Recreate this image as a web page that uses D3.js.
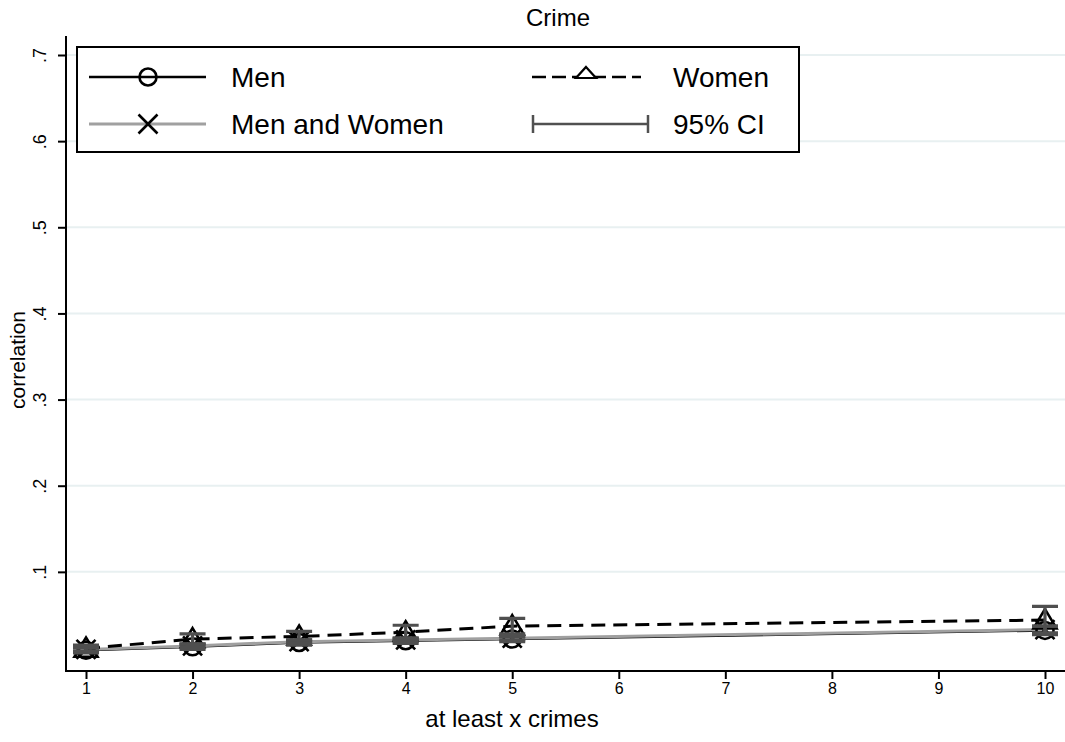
<!DOCTYPE html>
<html><head><meta charset="utf-8">
<script src="https://cdn.jsdelivr.net/npm/d3@7"></script>
<style>body{margin:0;background:#fff;} svg{display:block;font-family:Arial,"Liberation Sans",Helvetica,sans-serif;}</style>
</head><body>
<svg id="c" width="1065" height="742"></svg>
<script>
const xCats = [1,2,3,4,5,10];
const xTicks = [1,2,3,4,5,6,7,8,9,10];
const yTicks = [0.1,0.2,0.3,0.4,0.5,0.6,0.7];
const yTickLabels = [".1",".2",".3",".4",".5",".6",".7"];
const men = [0.009,0.013,0.018,0.020,0.022,0.032];
const women = [0.011,0.022,0.025,0.030,0.037,0.044];
const menWomen = [0.010,0.014,0.019,0.021,0.023,0.033];
const menLo = [0.006,0.010,0.015,0.017,0.019,0.027];
const menHi = [0.012,0.016,0.021,0.023,0.025,0.037];
const womenLo = [0.007,0.016,0.019,0.022,0.028,0.029];
const womenHi = [0.015,0.028,0.031,0.038,0.046,0.060];
const mwLo = [0.008,0.012,0.017,0.019,0.021,0.029];
const mwHi = [0.012,0.016,0.021,0.023,0.025,0.037];
const labels = ["Men","Women","Men and Women","95% CI"];

const svg = d3.select("#c");
const x = d3.scaleLinear().domain([1,10]).range([86,1045]);
const y = d3.scaleLinear().domain([0,0.7]).range([658,55]);
const plotL = 66, plotR = 1065, plotB = 671, plotT = 36;

// gridlines
svg.append("g").selectAll("line").data(yTicks).join("line")
  .attr("x1",plotL).attr("x2",plotR).attr("y1",d=>y(d)).attr("y2",d=>y(d))
  .attr("stroke","#e8f0f1").attr("stroke-width",2);

// y axis
const ya = svg.append("g").attr("transform",`translate(${plotL},0)`)
  .call(d3.axisLeft(y).tickValues(yTicks).tickSize(8).tickFormat((d,i)=>yTickLabels[i]));
ya.attr("font-size",null).attr("font-family",null);
ya.select(".domain").remove();
ya.selectAll(".tick line").attr("stroke","#000").attr("stroke-width",2);
ya.selectAll(".tick text").style("font-size","18px").attr("fill","#000")
  .attr("transform","rotate(-90)").attr("x",0).attr("y",-20).attr("dy","0").attr("text-anchor","middle");
svg.append("line").attr("x1",plotL).attr("x2",plotL).attr("y1",plotT).attr("y2",plotB+1)
  .attr("stroke","#000").attr("stroke-width",2);

// x axis
const xa = svg.append("g").attr("transform",`translate(0,${plotB})`)
  .call(d3.axisBottom(x).tickValues(xTicks).tickSize(8).tickFormat(d3.format("d")));
xa.attr("font-size",null).attr("font-family",null);
xa.select(".domain").remove();
xa.selectAll(".tick line").attr("stroke","#000").attr("stroke-width",2);
xa.selectAll(".tick text").style("font-size","16px").attr("fill","#000").attr("y",12);
svg.append("line").attr("x1",plotL-1).attr("x2",plotR).attr("y1",plotB).attr("y2",plotB)
  .attr("stroke","#000").attr("stroke-width",2);

// titles
svg.append("text").attr("x",558).attr("y",26).attr("text-anchor","middle").style("font-size","24px").text("Crime");
svg.append("text").attr("x",512).attr("y",727).attr("text-anchor","middle").style("font-size","24px").text("at least x crimes");
svg.append("text").attr("transform","translate(25,360) rotate(-90)").attr("text-anchor","middle").style("font-size","21px").text("correlation");

const line = vals => d3.line().x((d,i)=>x(xCats[i])).y(d=>y(d))(vals);
svg.append("path").attr("d",line(men)).attr("fill","none").attr("stroke","#000").attr("stroke-width",2.5);
svg.append("path").attr("d",line(menWomen)).attr("fill","none").attr("stroke","#a0a0a0").attr("stroke-width",3);
svg.append("path").attr("d",line(women)).attr("fill","none").attr("stroke","#000").attr("stroke-width",3).attr("stroke-dasharray","14,8");

function circleM(g,cx,cy){g.append("circle").attr("cx",cx).attr("cy",cy).attr("r",8.5).attr("fill","none").attr("stroke","#000").attr("stroke-width",2.6);}
function triM(g,cx,cy){const s=11;g.append("path").attr("d",`M${cx},${cy-s}L${cx+s*1.05},${cy+s*0.75}L${cx-s*1.05},${cy+s*0.75}Z`).attr("fill","none").attr("stroke","#000").attr("stroke-width",2.6);}
function xM(g,cx,cy){const s=9.5;g.append("path").attr("d",`M${cx-s},${cy-s}L${cx+s},${cy+s}M${cx-s},${cy+s}L${cx+s},${cy-s}`).attr("stroke","#000").attr("stroke-width",2.6);}

const mk = svg.append("g");
xCats.forEach((c,i)=>{ circleM(mk,x(c),y(men[i])); triM(mk,x(c),y(women[i])); xM(mk,x(c),y(menWomen[i])); });

// CIs
const ci = svg.append("g").attr("stroke","#4f4f4f").attr("stroke-width",3.2).attr("fill","none");
[[menLo,menHi],[womenLo,womenHi],[mwLo,mwHi]].forEach(([lo,hi])=>{
  xCats.forEach((c,i)=>{
    const cx=x(c);
    ci.append("path").attr("d",`M${cx},${y(lo[i])}V${y(hi[i])}M${cx-13},${y(hi[i])}H${cx+13}M${cx-13},${y(lo[i])}H${cx+13}`);
  });
});

// legend
const lg = svg.append("g");
lg.append("rect").attr("x",77).attr("y",47).attr("width",722).attr("height",105).attr("fill","#fff").attr("stroke","#000").attr("stroke-width",2);
const r1=77, r2=124;
lg.append("line").attr("x1",89).attr("x2",206).attr("y1",r1).attr("y2",r1).attr("stroke","#000").attr("stroke-width",2.5);
circleM(lg,148,r1);
lg.append("line").attr("x1",89).attr("x2",206).attr("y1",r2).attr("y2",r2).attr("stroke","#a0a0a0").attr("stroke-width",3);
xM(lg,148,r2);
lg.append("line").attr("x1",532).attr("x2",641).attr("y1",r1).attr("y2",r1).attr("stroke","#000").attr("stroke-width",2.5).attr("stroke-dasharray","14,6");
lg.append("path").attr("d",`M586,${r1-10}L596,${r1+1}L576,${r1+1}Z`).attr("fill","#fff").attr("stroke","#000").attr("stroke-width",2.2);
lg.append("path").attr("d",`M533,${r2-9}V${r2+9}M533,${r2}H648M648,${r2-9}V${r2+9}`).attr("stroke","#505050").attr("stroke-width",2.5).attr("fill","none");
const lt = [[231,r1,labels[0]],[673,r1,labels[1]],[231,r2,labels[2]],[673,r2,labels[3]]];
lg.selectAll("text").data(lt).join("text").attr("x",d=>d[0]).attr("y",d=>d[1]+10).style("font-size","28px").text(d=>d[2]);
</script>
</body></html>
